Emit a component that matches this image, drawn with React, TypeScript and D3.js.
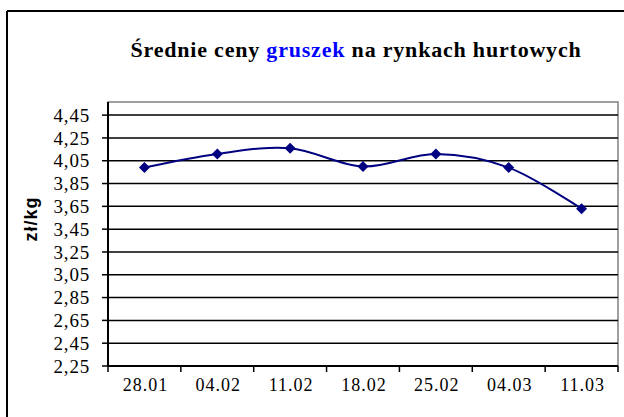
import React from "react";
import * as d3 from "d3";

const categories = ["28.01", "04.02", "11.02", "18.02", "25.02", "04.03", "11.03"];
const prices = [3.99, 4.11, 4.16, 4.0, 4.11, 3.99, 3.63];
const yTicks = [2.25, 2.45, 2.65, 2.85, 3.05, 3.25, 3.45, 3.65, 3.85, 4.05, 4.25, 4.45];

const W = 624, H = 417;
const plot = { left: 108, right: 618, top: 102, bottom: 366 };
const serif = "\"Liberation Serif\", \"Times New Roman\", serif";
const sans = "\"Liberation Sans\", Arial, sans-serif";
const navy = "#000080";

export default function App() {
  const x = d3.scaleBand<string>()
    .domain(categories)
    .range([plot.left, plot.right])
    .padding(0);

  const y = d3.scaleLinear()
    .domain([2.25, 4.565])
    .range([plot.bottom, plot.top]);

  const cx = (c: string) => (x(c) as number) + x.bandwidth() / 2;

  const line = d3.line<number>()
    .x((d, i) => cx(categories[i]))
    .y(d => y(d))
    .curve(d3.curveCatmullRom.alpha(0));

  const bounds = categories.map(c => x(c) as number).concat(plot.right);
  const fmt = (v: number) => v.toFixed(2).replace(".", ",");

  return (
    <svg width={W} height={H} style={{ position: "absolute", left: 0, top: 0, background: "#fff" }}>
      {/* chart frame, cut off at right and bottom */}
      <line x1={7} y1={11} x2={W} y2={11} stroke="#000" strokeWidth={2} />
      <line x1={7} y1={11} x2={7} y2={H} stroke="#000" strokeWidth={2} />

      <text x={356} y={57} textAnchor="middle" fontFamily={serif} fontWeight="bold"
        fontSize={22} letterSpacing={0.8}>
        Średnie ceny <tspan fill="#0000ff">gruszek</tspan> na rynkach hurtowych
      </text>

      {/* plot area border */}
      <rect x={plot.left} y={plot.top} width={plot.right - plot.left} height={plot.bottom - plot.top}
        fill="none" stroke="#808080" strokeWidth={1.5} />

      {/* gridlines + y ticks */}
      {yTicks.map(t => (
        <g key={t}>
          <line x1={plot.left} x2={plot.right} y1={y(t)} y2={y(t)} stroke="#000" strokeWidth={1.5} />
          <line x1={plot.left - 6} x2={plot.left} y1={y(t)} y2={y(t)} stroke="#000" strokeWidth={1.5} />
          <text x={90} y={y(t)} dy="0.35em" textAnchor="end" fontFamily={serif} fontSize={19}
            letterSpacing={0.8}>{fmt(t)}</text>
        </g>
      ))}

      {/* axes */}
      <line x1={plot.left} x2={plot.left} y1={plot.top} y2={plot.bottom} stroke="#000" strokeWidth={2} />
      <line x1={plot.left} x2={plot.right} y1={plot.bottom} y2={plot.bottom} stroke="#000" strokeWidth={2} />
      {bounds.map((b, i) => (
        <line key={i} x1={b} x2={b} y1={plot.bottom} y2={plot.bottom + 6} stroke="#000" strokeWidth={1.5} />
      ))}
      {categories.map(c => (
        <text key={c} x={cx(c) + 1} y={391} textAnchor="middle" fontFamily={serif} fontSize={18}
          letterSpacing={1}>{c}</text>
      ))}

      <text transform="translate(37,219) rotate(-90)" textAnchor="middle" fontFamily={sans}
        fontWeight="bold" fontSize={18} letterSpacing={1}>zł/kg</text>

      {/* series */}
      <path d={line(prices) || ""} fill="none" stroke={navy} strokeWidth={2} />
      {prices.map((p, i) => {
        const px = cx(categories[i]), py = y(p), r = 5.5;
        return (
          <path key={i} d={`M${px},${py - r}L${px + r},${py}L${px},${py + r}L${px - r},${py}Z`} fill={navy} />
        );
      })}
    </svg>
  );
}
